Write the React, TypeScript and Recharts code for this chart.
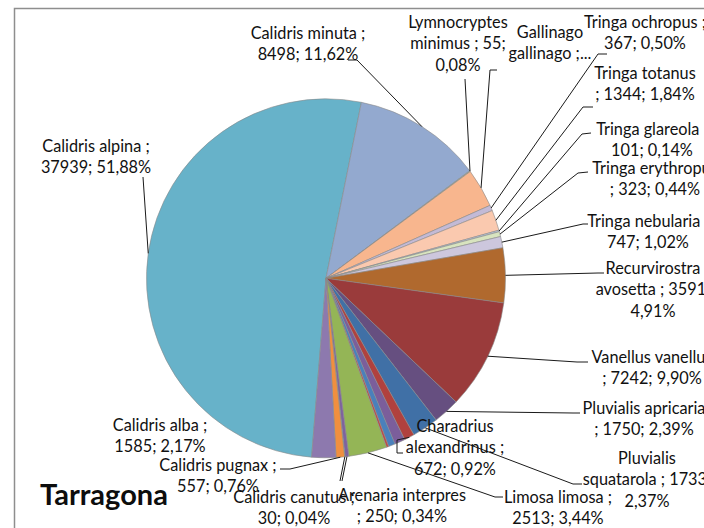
import React from "react";
import { PieChart, Pie, Cell } from "recharts";

// clockwise from the bottom, starting with Calidris alpina
const species = [
  "Calidris alpina",
  "Calidris minuta",
  "Lymnocryptes minimus",
  "Gallinago gallinago",
  "Tringa ochropus",
  "Tringa totanus",
  "Tringa glareola",
  "Tringa erythropus",
  "Tringa nebularia",
  "Recurvirostra avosetta",
  "Vanellus vanellus",
  "Pluvialis apricaria",
  "Pluvialis squatarola",
  "Charadrius alexandrinus",
  "sin etiqueta 1",
  "sin etiqueta 2",
  "sin etiqueta 3",
  "Limosa limosa",
  "Arenaria interpres",
  "Calidris canutus",
  "Calidris pugnax",
  "Calidris alba",
];

const counts = [
  37939, 8498, 55, 2550, 367, 1344, 101, 323, 747, 3591, 7242, 1750, 1733, 672,
  690, 440, 150, 2513, 250, 30, 557, 1585,
];

const palette = [
  "#67b2c9", "#93a9cf", "#a9b99a", "#f8b68e", "#c3bad6", "#fac9af", "#b9c9de",
  "#d8e4bf", "#cdc7dd", "#b0692e", "#9a3b3b", "#664f80", "#4070a6", "#b0413e",
  "#7b5e9b", "#4a80bc", "#be4b48", "#94b556", "#7e62a0", "#4bacc6", "#f08f3f",
  "#8d79ae",
];

const data = species.map((name, i) => ({ name, value: counts[i] }));

type Pt = [number, number];
type LabelLayout = { x: number; y: number; words: number[]; cut?: boolean; path?: Pt[] };

// label placement: centre x, first line y, words per line, leader points after the slice edge
const labelLayout: Record<string, LabelLayout> = {
  "Calidris alpina": { x: 96, y: 146, words: [3, 2], path: [[143, 177]] },
  "Calidris minuta": { x: 308, y: 33, words: [3, 2], path: [[357, 60], [348, 60]] },
  "Lymnocryptes minimus": { x: 458, y: 22, words: [1, 3, 1], path: [[465, 79]] },
  "Gallinago gallinago": { x: 550, y: 32, words: [1, 2], cut: true, path: [[490, 70], [497, 70]] },
  "Tringa ochropus": { x: 645, y: 22, words: [3, 2], path: [[598, 54], [607, 54]] },
  "Tringa totanus": { x: 645, y: 73, words: [2, 3], path: [[583, 107], [593, 107]] },
  "Tringa glareola": { x: 652, y: 129, words: [3, 2], path: [[582, 134], [591, 133]] },
  "Tringa erythropus": { x: 655, y: 168, words: [2, 3], path: [[578, 173], [588, 172]] },
  "Tringa nebularia": { x: 648, y: 221, words: [3, 2], path: [[583, 224], [588, 224]] },
  "Recurvirostra avosetta": { x: 653, y: 268, words: [1, 3, 1], path: [[598, 273], [604, 273]] },
  "Vanellus vanellus": { x: 652, y: 357, words: [2, 3], path: [[577, 362], [588, 362]] },
  "Pluvialis apricaria": { x: 644, y: 408, words: [2, 3], path: [[573, 413], [580, 413]] },
  "Pluvialis squatarola": { x: 647, y: 458, words: [1, 3, 1], path: [[573, 484], [582, 484]] },
  "Charadrius alexandrinus": { x: 455, y: 426, words: [1, 2, 2], path: [[397, 440], [397, 453], [403, 453]] },
  "Limosa limosa": { x: 558, y: 497, words: [3, 2], path: [[495, 497], [503, 497]] },
  "Arenaria interpres": { x: 402, y: 495, words: [2, 3], path: [[342, 481]] },
  "Calidris canutus": { x: 294, y: 497, words: [3, 2], path: [[340, 481]] },
  "Calidris pugnax": { x: 218, y: 465, words: [3, 2], path: [[290, 469], [280, 469]] },
  "Calidris alba": { x: 160, y: 425, words: [3, 2] },
};

const RAD = Math.PI / 180;
const LINE_H = 21.5;
const FONT = "Lato, 'Open Sans', sans-serif";

function renderLabel(props: any) {
  const { cx, cy, midAngle, outerRadius, name, value, percent } = props;
  const lay = labelLayout[name];
  if (!lay) return null;
  const ex = cx + outerRadius * Math.cos(-midAngle * RAD);
  const ey = cy + outerRadius * Math.sin(-midAngle * RAD);
  const pct = (percent * 100).toFixed(2).replace(".", ",");
  const words = `${name} ; ${value}; ${pct}%`.split(" ");
  const lines: string[] = [];
  let k = 0;
  lay.words.forEach((n) => {
    lines.push(words.slice(k, k + n).join(" "));
    k += n;
  });
  if (lay.cut) lines[lines.length - 1] += "...";
  const pts = lay.path ? [[ex, ey] as Pt, ...lay.path] : [];
  return (
    <g key={name}>
      {pts.length > 0 && (
        <polyline
          points={pts.map((p) => p.join(",")).join(" ")}
          fill="none"
          stroke="#1a1a1a"
          strokeWidth={1}
        />
      )}
      {lines.map((t, i) => (
        <text
          key={i}
          x={lay.x}
          y={lay.y + i * LINE_H + 5.5}
          textAnchor="middle"
          fontFamily={FONT}
          fontSize={16.3}
          fill="#111"
        >
          {t}
        </text>
      ))}
    </g>
  );
}

export default function App() {
  return (
    <div
      style={{
        position: "fixed",
        left: 0,
        top: 0,
        width: 704,
        height: 528,
        overflow: "hidden",
        background: "#fff",
      }}
    >
      <PieChart width={704} height={528} style={{ position: "absolute", left: 0, top: 0 }}>
        <Pie
          data={data}
          dataKey="value"
          nameKey="name"
          cx={321}
          cy={273.3}
          outerRadius={179.5}
          startAngle={-94.6}
          endAngle={-454.6}
          stroke="#8a8a8a"
          strokeWidth={0.6}
          label={renderLabel}
          labelLine={false}
          isAnimationActive={false}
        >
          {data.map((d, i) => (
            <Cell key={d.name} fill={palette[i]} />
          ))}
        </Pie>
      </PieChart>
      <svg
        width={704}
        height={528}
        style={{ position: "absolute", left: 0, top: 0, pointerEvents: "none" }}
      >
        <rect x={14.5} y={8.5} width={800} height={600} fill="none" stroke="#8e8e8e" strokeWidth={1.5} />
        <text x={40} y={505} fontFamily={FONT} fontWeight={700} fontSize={29} fill="#0d0d0d">
          Tarragona
        </text>
      </svg>
    </div>
  );
}
